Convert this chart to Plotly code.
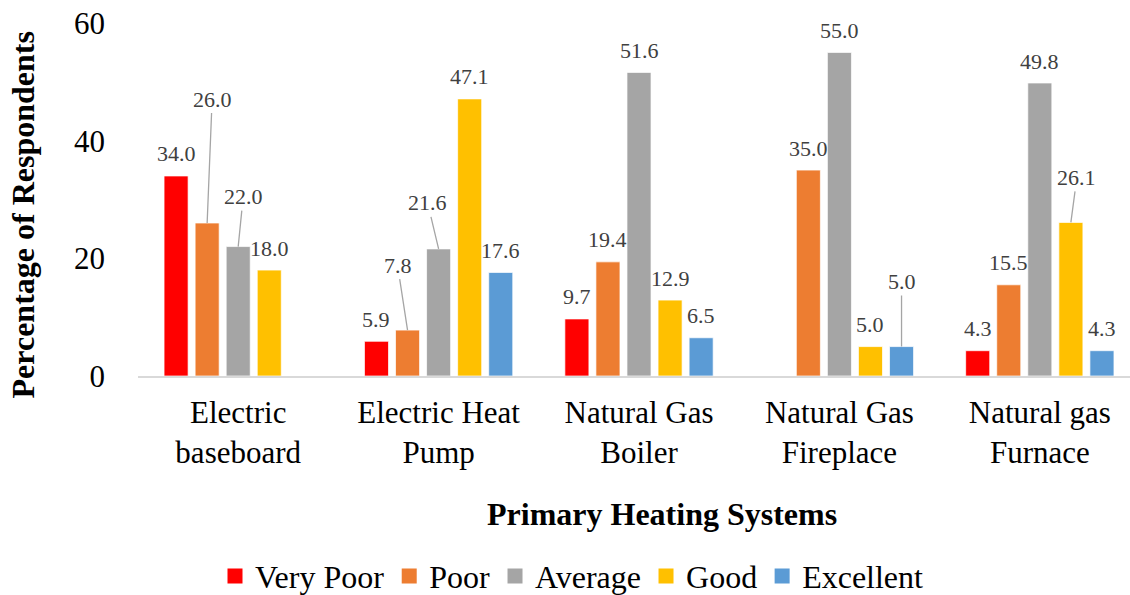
import plotly.graph_objects as go

categories = ["Electric<br>baseboard", "Electric Heat<br>Pump", "Natural Gas<br>Boiler",
              "Natural Gas<br>Fireplace", "Natural gas<br>Furnace"]
series_names = ["Very Poor", "Poor", "Average", "Good", "Excellent"]
very_poor = [34.0, 5.9, 9.7, None, 4.3]
poor = [26.0, 7.8, 19.4, 35.0, 15.5]
average = [22.0, 21.6, 51.6, 55.0, 49.8]
good = [18.0, 47.1, 12.9, 5.0, 26.1]
excellent = [None, 17.6, 6.5, 5.0, 4.3]
y_ticks = [0, 20, 40, 60]

series_values = [very_poor, poor, average, good, excellent]
colors = ["#FF0000", "#ED7D31", "#A5A5A5", "#FFC000", "#5B9BD5"]

# labels that use a leader line: (category index, series index) -> pixel offset of label
leader_offsets = {
    (0, 1): (5, -124),
    (0, 2): (5, -50),
    (1, 1): (-10, -65),
    (1, 2): (-11, -46),
    (3, 4): (0, -65),
    (4, 3): (6, -45),
}

FONT = "Liberation Serif"
positions = list(range(len(categories)))
bar_w = 0.12
step = 0.155

fig = go.Figure()
annotations = []
for j, (name, vals, col) in enumerate(zip(series_names, series_values, colors)):
    off = (j - 2) * step
    fig.add_trace(go.Bar(
        x=positions, y=vals, name=name, width=bar_w, offset=off - bar_w / 2,
        marker=dict(color=col, line=dict(color="rgba(255,255,255,0.7)", width=1)),
        hoverinfo="y+name", showlegend=False,
    ))
    # legend entry with a larger square swatch
    fig.add_trace(go.Scatter(
        x=[None], y=[None], mode="markers", name=name,
        marker=dict(symbol="square", size=15, color=col), hoverinfo="skip",
    ))
    for i, v in enumerate(vals):
        if v is None:
            continue
        txt = f"{v:.1f}"
        if (i, j) in leader_offsets:
            ax, ay = leader_offsets[(i, j)]
            annotations.append(dict(
                x=i + off, y=v, xref="x", yref="y", text=txt, showarrow=True,
                arrowhead=0, arrowwidth=1.3, arrowcolor="#A5A5A5", ax=ax, ay=ay,
                standoff=0, font=dict(family=FONT, size=22, color="#404040"),
            ))
        else:
            annotations.append(dict(
                x=i + off, y=v, xref="x", yref="y", text=txt, showarrow=False,
                yanchor="middle", yshift=22,
                font=dict(family=FONT, size=22, color="#404040"),
            ))

annotations.append(dict(
    text="<b>Primary Heating Systems</b>", xref="paper", yref="paper",
    x=0.5287, y=-0.391, xanchor="center", yanchor="middle", showarrow=False,
    font=dict(family=FONT, size=32, color="black"),
))
annotations.append(dict(
    text="<b>Percentage of Respondents</b>", xref="paper", yref="paper",
    x=-0.116, y=0.4575, xanchor="center", yanchor="middle", showarrow=False,
    textangle=-90, font=dict(family=FONT, size=32, color="black"),
))

fig.update_layout(
    width=1130, height=595,
    margin=dict(l=138, r=0, t=23, b=219, autoexpand=False),
    paper_bgcolor="white", plot_bgcolor="white",
    barmode="overlay",
    font=dict(family=FONT, color="black"),
    showlegend=True,
    legend=dict(orientation="h", x=0.4375, xanchor="center", y=-0.567, yanchor="middle",
                font=dict(family=FONT, size=32, color="black"), traceorder="normal",
                itemsizing="trace"),
    annotations=annotations,
    xaxis=dict(
        range=[-0.5, 4.45], tickmode="array", tickvals=positions, ticktext=categories,
        showgrid=False, zeroline=False, showline=True, linecolor="#D9D9D9", linewidth=1.5,
        ticks="", tickfont=dict(family=FONT, size=31, color="black"),
        ticklabelstandoff=8, automargin=False,
    ),
    yaxis=dict(
        range=[0, 60], tickmode="array", tickvals=y_ticks,
        showgrid=False, zeroline=False, showline=False, ticks="",
        tickfont=dict(family=FONT, size=31, color="black"), ticklabelstandoff=32,
        automargin=False,
    ),
)

fig.write_html("out.html", config={"displayModeBar": False},
               post_script="document.body.style.margin='0';")
